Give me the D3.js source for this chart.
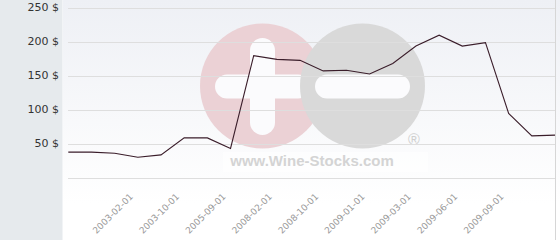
<!DOCTYPE html>
<html lang="en">
<head>
    <meta charset="UTF-8">
    <title>Price</title>
    <script src="https://d3js.org/d3.v7.min.js"></script>
    <style>
        body { margin: 0; background: #fff; }
        svg { display: block; }
    </style>
</head>
<body>
    <div id="my_dataviz"></div>
</body>
</html>
<script>

    // dates for every point, only every other one is labelled
    const dates = ['2002-06-01','2002-09-01','2002-12-01','2003-02-01','2003-06-01','2003-10-01',
                   '2004-10-01','2005-09-01','2007-06-01','2008-02-01','2008-06-01','2008-10-01',
                   '2008-12-01','2009-01-01','2009-02-01','2009-03-01','2009-05-01','2009-06-01',
                   '2009-08-01','2009-09-01','2009-10-01','2009-11-01'];
    const prices = [38, 38, 36.5, 30.5, 34, 59, 59, 43.5, 180, 174.5, 173, 157.5,
                    158.5, 153, 168.5, 194, 210, 194, 199, 95, 62, 63];
    const tickDates = ['2003-02-01','2003-10-01','2005-09-01','2008-02-01','2008-10-01',
                       '2009-01-01','2009-03-01','2009-06-01','2009-09-01'];
    const yTicks = [0, 50, 100, 150, 200, 250];

    const width = 560, height = 240;
    const plot = {left: 68, right: 555, top: 8, bottom: 178};

    const svg = d3.select("#my_dataviz")
      .append("svg")
        .attr("width", width)
        .attr("height", height);

    // background gradient of the plot area
    const defs = svg.append("defs");
    const grad = defs.append("linearGradient")
        .attr("id", "bg").attr("x1", 0).attr("y1", 0).attr("x2", 0).attr("y2", 1);
    grad.append("stop").attr("offset", "0%").attr("stop-color", "#eef0f5");
    grad.append("stop").attr("offset", "85%").attr("stop-color", "#ffffff");

    svg.append("rect")
        .attr("x", 63).attr("y", 0)
        .attr("width", width - 63).attr("height", height)
        .attr("fill", "url(#bg)");

    // grey side panel
    svg.append("rect")
        .attr("x", 0).attr("y", 0)
        .attr("width", 62.5).attr("height", height)
        .attr("fill", "#e6eaed");

    // right border
    svg.append("line")
        .attr("x1", 555.5).attr("x2", 555.5)
        .attr("y1", 0).attr("y2", height)
        .attr("stroke", "#d6d6d6");

    // watermark
    const wm = svg.append("g");
    wm.append("rect")
        .attr("x", 223).attr("y", 152).attr("width", 205).attr("height", 20)
        .attr("fill", "#ffffff").attr("opacity", 0.6);
    wm.append("circle").attr("cx", 262.5).attr("cy", 86).attr("r", 62.5).attr("fill", "#ebd1d5");
    wm.append("rect").attr("x", 250).attr("y", 38).attr("width", 25).attr("height", 97)
        .attr("rx", 12.5).attr("fill", "#fbfbfd");
    wm.append("rect").attr("x", 215).attr("y", 74.5).attr("width", 95).attr("height", 24)
        .attr("rx", 12).attr("fill", "#fbfbfd");
    wm.append("circle").attr("cx", 362.5).attr("cy", 86).attr("r", 62.5).attr("fill", "#d9d9d9");
    wm.append("rect").attr("x", 315).attr("y", 74.5).attr("width", 95).attr("height", 24)
        .attr("rx", 12).attr("fill", "#fbfbfd");
    wm.append("text")
        .attr("x", 414).attr("y", 145)
        .attr("text-anchor", "middle")
        .style("font-family", "Liberation Sans, Arial, sans-serif")
        .style("font-size", "16px")
        .attr("fill", "#cfcfcf")
        .text("®");
    wm.append("text")
        .attr("x", 312).attr("y", 165.5)
        .attr("text-anchor", "middle")
        .style("font-family", "Liberation Sans, Arial, sans-serif")
        .style("font-size", "15px")
        .style("font-weight", "bold")
        .attr("fill", "#d4d4d4")
        .text("www.Wine-Stocks.com");

    // scales
    const x = d3.scalePoint()
      .domain(dates)
      .range([plot.left + 0.3, plot.right]);
    const y = d3.scaleLinear()
      .domain([0, 250])
      .range([plot.bottom, plot.top]);

    // grid lines
    svg.append("g")
      .selectAll("line")
      .data(yTicks)
      .join("line")
        .attr("x1", plot.left)
        .attr("x2", plot.right)
        .attr("y1", d => Math.round(y(d)) + 0.5)
        .attr("y2", d => Math.round(y(d)) + 0.5)
        .attr("stroke", "#dedede");

    // Y axis labels
    const yAxis = svg.append("g")
        .attr("transform", "translate(59,0)")
        .call(d3.axisLeft(y).tickValues(yTicks.filter(d => d > 0))
            .tickSize(0).tickPadding(0).tickFormat(d => d + " $"));
    yAxis.select(".domain").remove();
    yAxis.selectAll("text")
        .attr("dy", "0.2em")
        .style("font-family", "DejaVu Sans, sans-serif")
        .style("font-size", "11px")
        .attr("fill", "#333");

    // X axis labels
    const xAxis = svg.append("g")
        .attr("transform", `translate(0,${plot.bottom})`)
        .call(d3.axisBottom(x).tickValues(tickDates).tickSize(0).tickPadding(0));
    xAxis.select(".domain").remove();
    xAxis.selectAll("text")
        .attr("text-anchor", "end")
        .attr("transform", "translate(-7,17) rotate(-45)")
        .attr("dy", "0.35em")
        .attr("y", 0)
        .style("font-family", "DejaVu Sans, sans-serif")
        .style("font-size", "9px")
        .attr("fill", "#999");

    // price line
    const line = d3.line()
        .x((d, i) => x(dates[i]))
        .y(d => y(d));
    svg.append("path")
        .datum(prices)
        .attr("fill", "none")
        .attr("stroke", "#3a1d2a")
        .attr("stroke-width", 1.1)
        .attr("d", line);

</script>
